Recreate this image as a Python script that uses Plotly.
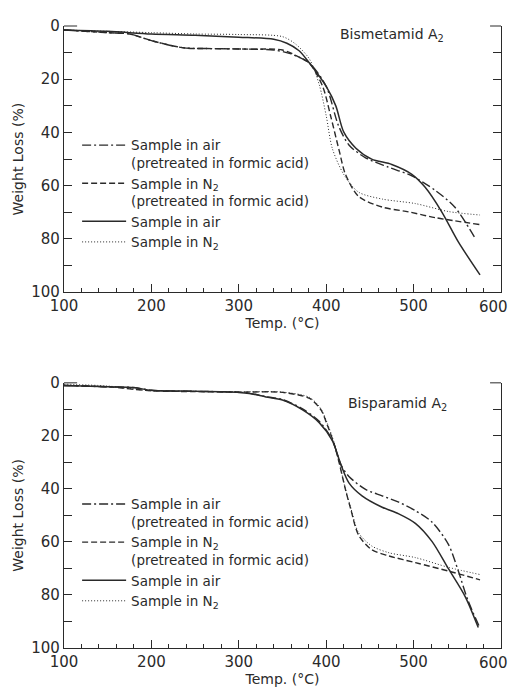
import plotly.graph_objects as go

# ---------------- data: Bismetamid A2 (top) ----------------
T_top_airpre = [100,150,175,200,225,240,270,312,340,360,381,400,414,426,445,471,498,525,547,571]
W_top_airpre = [1.5,2.5,3.0,5.5,7.5,8.3,8.5,8.7,9.0,10.5,14,22.7,37.4,44.7,49.5,53,56.3,61.8,68,80]

T_top_N2pre = [100,150,175,200,225,240,270,312,350,369,381,396,405,415,422,437,464,494,525,576]
W_top_N2pre = [1.5,2.5,3.0,5.5,7.5,8.3,8.5,8.7,9.0,11.7,14,22.7,33.7,47,55.7,64,68,69.8,72,74.6]

T_top_air = [100,150,200,250,300,340,355,369,381,400,411,420,434,452,475,498,513,532,551,576]
W_top_air = [1.5,2.0,3.0,3.5,4.2,5.0,6.5,9.3,14,22.7,30,39.8,45.9,50,52,55.7,60.5,69.7,81,93.5]

T_top_N2 = [100,150,200,250,300,350,365,381,392,400,407,420,437,464,502,540,576]
W_top_N2 = [1.5,2.0,2.5,3.0,3.2,4.0,6.8,12.5,22,33.7,46,55.7,62.4,65,66.7,69.7,71]

# ---------------- data: Bisparamid A2 (bottom) ----------------
T_bot_airpre = [100,150,180,200,250,300,312,331,350,373,392,407,417,426,445,464,483,502,521,540,551,562,576]
W_bot_airpre = [1.0,1.5,1.8,2.8,3.2,3.5,3.9,5.2,6.3,9.8,14.5,21.5,31,35.3,40.2,42.6,45,48.2,52.5,61,70.8,81.9,92.5]

T_bot_N2pre = [100,150,200,250,300,350,381,394,401,409,415,422,428,437,452,472,502,540,576]
W_bot_N2pre = [1.0,1.5,3.0,3.3,3.5,3.6,5.9,10.2,15.7,23,30.4,40.2,47.5,57.4,62.9,65.3,67.8,71,74.3]

T_bot_air = [100,150,180,200,250,300,312,331,350,373,392,407,417,426,441,464,483,502,521,540,559,574]
W_bot_air = [1.0,1.5,1.8,2.8,3.2,3.6,4.0,5.3,6.5,10.2,15,21.8,31,37.7,42.6,46.9,49.4,53,59.8,70.2,80.6,92.3]

T_bot_N2 = [100,150,200,250,300,350,381,394,401,409,415,422,428,437,452,472,502,540,576]
W_bot_N2 = [0.5,1.2,3.0,3.2,3.4,3.5,5.5,9.8,15,22.5,30,40,47,56.5,61.5,64.1,65.9,69.6,72.3]

legend_names = ["Sample in air<br>(pretreated in formic acid)",
                "Sample in N<sub>2</sub><br>(pretreated in formic acid)",
                "Sample in air",
                "Sample in N<sub>2</sub>"]
panel_titles = ["Bismetamid A<sub>2</sub>", "Bisparamid A<sub>2</sub>"]
y_tickvals = list(range(0, 101, 10))
y_ticktext = [str(v) if v % 20 == 0 else "" for v in y_tickvals]
x_tickvals = [100, 200, 300, 400, 500, 600]
x_ticktext = ["100", "200", "300", "400", "500", ""]   # last label drawn as annotation (edge of page)
x_last_label = "600"

styles = [dict(width=1.4, dash="9px,3px,2px,3px"),
          dict(width=1.4, dash="6px,3px"),
          dict(width=1.5, dash="solid"),
          dict(width=1.0, dash="1px,2px")]

FONT = "DejaVu Sans"
INK = "#2a2a2a"

fig = go.Figure()
top = [(T_top_airpre, W_top_airpre), (T_top_N2pre, W_top_N2pre), (T_top_air, W_top_air), (T_top_N2, W_top_N2)]
bot = [(T_bot_airpre, W_bot_airpre), (T_bot_N2pre, W_bot_N2pre), (T_bot_air, W_bot_air), (T_bot_N2, W_bot_N2)]

for i, (t, w) in enumerate(top):
    fig.add_trace(go.Scatter(x=t, y=w, mode="lines", name=legend_names[i],
                             line=dict(color=INK, shape="spline", smoothing=0.8, **styles[i]),
                             xaxis="x", yaxis="y", legend="legend"))
for i, (t, w) in enumerate(bot):
    fig.add_trace(go.Scatter(x=t, y=w, mode="lines", name=legend_names[i],
                             line=dict(color=INK, shape="spline", smoothing=0.8, **styles[i]),
                             xaxis="x2", yaxis="y2", legend="legend2"))

def xax(anchor):
    return dict(range=[100, 600], tickvals=x_tickvals, ticktext=x_ticktext, ticks="inside", ticklen=8,
                tickwidth=1, tickcolor=INK, showline=True, linecolor=INK, linewidth=1.2, mirror=False,
                showgrid=False, zeroline=False, anchor=anchor,
                minor=dict(dtick=20, tick0=100, ticks="inside", ticklen=4, tickcolor=INK, showgrid=False),
                tickfont=dict(size=15, color=INK, family=FONT),
                title=dict(text="Temp. (°C)", font=dict(size=14, color=INK, family=FONT), standoff=0))

def yax(anchor, domain):
    return dict(range=[100, 0], tickvals=y_tickvals, ticktext=y_ticktext, ticks="inside", ticklen=8,
                tickcolor=INK, showline=True, linecolor=INK, linewidth=1.2, mirror="allticks",
                showgrid=False, zeroline=False, anchor=anchor, domain=domain,
                tickfont=dict(size=15, color=INK, family=FONT),
                title=dict(text="Weight Loss (%)", font=dict(size=14, color=INK, family=FONT), standoff=4))

leg_common = dict(bgcolor="rgba(0,0,0,0)", borderwidth=0, xanchor="left", yanchor="top",
                  font=dict(size=13.5, color=INK, family=FONT), valign="top", itemwidth=44,
                  tracegroupgap=0)

label_font = dict(size=15, color=INK, family=FONT)
stub = dict(color=INK, width=1)
fig.update_layout(
    width=503, height=682,
    margin=dict(l=56, r=9, t=10, b=34),
    paper_bgcolor="white", plot_bgcolor="white",
    xaxis=xax("y"), yaxis=yax("x", [0.572, 1.0]),
    xaxis2=xax("y2"), yaxis2=yax("x2", [0.0, 0.4263]),
    legend=dict(x=0.03, y=0.833, **leg_common),
    legend2=dict(x=0.03, y=0.256, **leg_common),
    annotations=[
        dict(text=panel_titles[0], x=0.751, y=0.986, xref="paper", yref="paper", showarrow=False,
             xanchor="center", yanchor="middle", font=dict(size=14, color=INK, family=FONT)),
        dict(text=panel_titles[1], x=0.763, y=0.393, xref="paper", yref="paper", showarrow=False,
             xanchor="center", yanchor="middle", font=dict(size=14, color=INK, family=FONT)),
        dict(text=x_last_label, x=600, y=0, xref="x", yref="y domain", showarrow=False,
             xanchor="right", yanchor="top", xshift=9, yshift=-4, font=label_font),
        dict(text=x_last_label, x=600, y=0, xref="x2", yref="y2 domain", showarrow=False,
             xanchor="right", yanchor="top", xshift=9, yshift=-4, font=label_font),
    ],
    shapes=[
        dict(type="line", xref="x domain", yref="y domain", x0=0, x1=0.03, y0=1, y1=1, line=stub),
        dict(type="line", xref="x domain", yref="y domain", x0=0.975, x1=1, y0=1, y1=1, line=stub),
        dict(type="line", xref="x2 domain", yref="y2 domain", x0=0, x1=0.03, y0=1, y1=1, line=stub),
        dict(type="line", xref="x2 domain", yref="y2 domain", x0=0.975, x1=1, y0=1, y1=1, line=stub),
    ],
)

fig.write_html("out.html", config=dict(displayModeBar=False))
